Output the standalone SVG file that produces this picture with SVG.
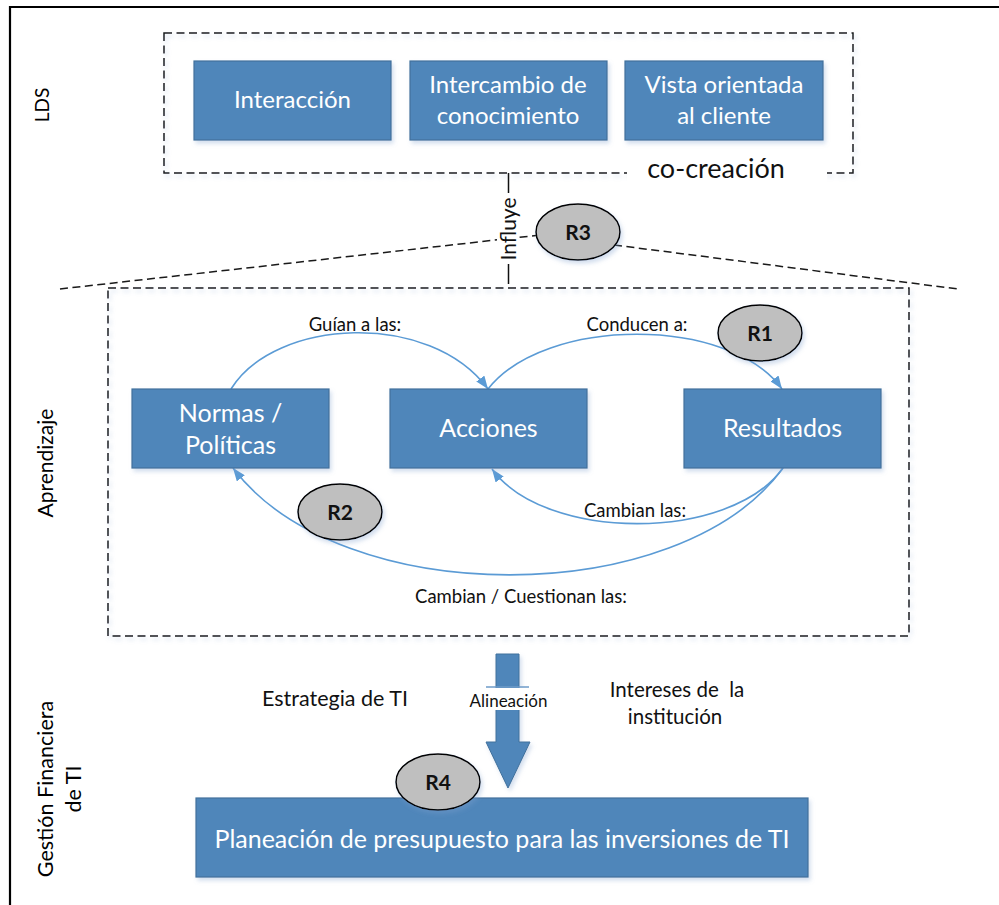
<svg xmlns="http://www.w3.org/2000/svg" width="999" height="905" viewBox="0 0 999 905">
  <defs>
    <style>
      .lbl { font-family: Lato, "Liberation Sans", Arial, sans-serif; }
      .box { fill: #4f86ba; stroke: #41719c; stroke-width: 1.2; }
      .boxtxt { fill: #ffffff; text-anchor: middle; }
      .dash { fill: none; stroke: #1a1a1a; stroke-width: 1.5; stroke-dasharray: 8 4.5; }
      .loop { fill: #bfbfbf; stroke: #000; stroke-width: 1.5; }
      .looptxt { font-weight: bold; font-size: 21px; text-anchor: middle; fill: #111; }
      .arc { fill: none; stroke: #5b9bd5; stroke-width: 1.6; }
      .note { fill: #111; text-anchor: middle; }
    </style>
    <filter id="shadow" x="-10%" y="-10%" width="130%" height="140%">
      <feDropShadow dx="2" dy="3" stdDeviation="2" flood-color="#7f9fcf" flood-opacity="0.35"/>
    </filter>
    <marker id="head" markerUnits="userSpaceOnUse" markerWidth="14" markerHeight="10" refX="13" refY="5" orient="auto">
      <path d="M0,0 L13,5 L0,10 z" fill="#5b9bd5"/>
    </marker>
  </defs>

  <rect x="0" y="0" width="999" height="905" fill="#ffffff"/>
  <!-- page frame -->
  <path d="M10,905 L10,7 L999,7" fill="none" stroke="#000" stroke-width="2.2"/>

  <!-- side labels -->
  <text class="lbl" x="0" y="0" font-size="19" text-anchor="middle" transform="translate(49,105) rotate(-90)">LDS</text>
  <text class="lbl" x="0" y="0" font-size="21" text-anchor="middle" transform="translate(53,463) rotate(-90)">Aprendizaje</text>
  <text class="lbl" x="0" y="0" font-size="21.5" text-anchor="middle" transform="translate(53,789) rotate(-90)">Gestión Financiera</text>
  <text class="lbl" x="0" y="0" font-size="21.5" text-anchor="middle" transform="translate(81,789) rotate(-90)">de TI</text>

  <!-- LDS area -->
  <g id="lds">
    <rect class="dash" x="164" y="33" width="689" height="140" filter="url(#shadow)"/>
    <rect x="627" y="140" width="200" height="42" fill="#ffffff"/>
    <text class="lbl" x="716" y="178" font-size="27" text-anchor="middle" fill="#111">co-creación</text>
  </g>
  <g id="interaccion">
    <rect class="box" x="194" y="61" width="197" height="79" filter="url(#shadow)"/>
    <text class="lbl boxtxt" x="292.5" y="108" font-size="24">Interacción</text>
  </g>
  <g id="intercambio">
    <rect class="box" x="410" y="61" width="197" height="79" filter="url(#shadow)"/>
    <text class="lbl boxtxt" x="508" y="93" font-size="24">Intercambio de</text>
    <text class="lbl boxtxt" x="508" y="124" font-size="24">conocimiento</text>
  </g>
  <g id="vista">
    <rect class="box" x="625" y="61" width="198" height="79" filter="url(#shadow)"/>
    <text class="lbl boxtxt" x="724" y="93" font-size="24">Vista orientada</text>
    <text class="lbl boxtxt" x="724" y="124" font-size="24">al cliente</text>
  </g>

  <!-- Aprendizaje area -->
  <g id="aprendizaje">
    <rect class="dash" x="108" y="288" width="801" height="348" filter="url(#shadow)"/>
  </g>

  <g id="connectors">
    <!-- influence tent -->
    <line class="dash" x1="60" y1="289" x2="540" y2="235"/>
    <line class="dash" x1="614" y1="245" x2="958" y2="289"/>
    <line x1="508.5" y1="173" x2="508.5" y2="284" stroke="#111" stroke-width="1.5"/>
    <rect x="497" y="193" width="22" height="71" fill="#ffffff"/>
    <text class="lbl" x="0" y="0" font-size="21" text-anchor="middle" fill="#111" transform="translate(516,229) rotate(-90)">Influye</text>

    <!-- learning loops -->
    <path class="arc" d="M231,389 C275,318 430,310 488,389" marker-end="url(#head)"/>
    <path class="arc" d="M488,389 C545,316 730,316 782,389" marker-end="url(#head)"/>
    <path class="arc" d="M783,468 C730,542 545,542 492,469" marker-end="url(#head)"/>
    <path class="arc" d="M783,468 C680,610 341,611 233,468" marker-end="url(#head)"/>
    <text class="lbl note" x="355" y="331" font-size="18.5">Guían a las:</text>
    <text class="lbl note" x="637" y="331" font-size="18.5">Conducen a:</text>
    <text class="lbl note" x="635" y="517" font-size="18.5">Cambian las:</text>
    <text class="lbl note" x="521" y="603" font-size="18.5">Cambian / Cuestionan las:</text>

    <!-- alignment arrow -->
    <path d="M496,654 L519,654 L519,742 L530,742 L508,788 L486,742 L496,742 z" fill="#4f86ba" stroke="#41719c" stroke-width="1" filter="url(#shadow)"/>
    <rect x="470" y="688" width="78" height="22" fill="#ffffff"/>
    <line x1="486" y1="687" x2="529" y2="687" stroke="#6e9bc8" stroke-width="1.5"/>
    <text class="lbl note" x="508.5" y="707" font-size="17">Alineación</text>
  </g>

  <g id="acciones">
    <rect class="box" x="390" y="389" width="197" height="79" filter="url(#shadow)"/>
    <text class="lbl boxtxt" x="488.5" y="437" font-size="25">Acciones</text>
  </g>
  <g id="normas">
    <rect class="box" x="132" y="389" width="197" height="79" filter="url(#shadow)"/>
    <text class="lbl boxtxt" x="230.5" y="422" font-size="25">Normas /</text>
    <text class="lbl boxtxt" x="230.5" y="454" font-size="25">Políticas</text>
  </g>
  <g id="resultados">
    <rect class="box" x="684" y="389" width="197" height="79" filter="url(#shadow)"/>
    <text class="lbl boxtxt" x="782.5" y="437" font-size="25">Resultados</text>
  </g>

  <!-- loop markers -->
  <g id="r1">
    <ellipse class="loop" cx="760" cy="333" rx="42" ry="28" filter="url(#shadow)"/>
    <text class="lbl looptxt" x="760" y="340.5">R1</text>
  </g>
  <g id="r2">
    <ellipse class="loop" cx="340" cy="512" rx="42" ry="28" filter="url(#shadow)"/>
    <text class="lbl looptxt" x="340" y="519.5">R2</text>
  </g>
  <g id="r3">
    <ellipse class="loop" cx="578" cy="232" rx="42" ry="28" filter="url(#shadow)"/>
    <text class="lbl looptxt" x="578" y="239.5">R3</text>
  </g>

  <!-- financial management -->
  <g id="estrategia">
    <text class="lbl note" x="335" y="706" font-size="21.5">Estrategia de TI</text>
  </g>
  <g id="intereses">
    <text class="lbl note" x="677" y="697" font-size="20.5" style="white-space:pre">Intereses de  la</text>
    <text class="lbl note" x="675" y="724" font-size="20.5">institución</text>
  </g>
  <g id="planeacion">
    <rect class="box" x="196" y="798" width="612" height="79" filter="url(#shadow)"/>
    <text class="lbl boxtxt" x="502" y="848" font-size="25">Planeación de presupuesto para las inversiones de TI</text>
  </g>
  <g id="r4">
    <ellipse class="loop" cx="438" cy="782" rx="42" ry="28" filter="url(#shadow)"/>
    <text class="lbl looptxt" x="438" y="789.5">R4</text>
  </g>
</svg>
